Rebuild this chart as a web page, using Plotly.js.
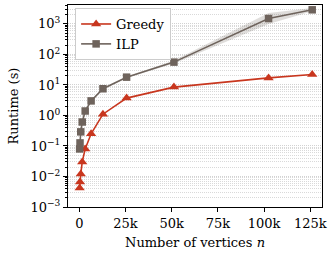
<!DOCTYPE html>
<html><head><meta charset="utf-8">
<script src="https://cdn.plot.ly/plotly-3.0.1.min.js"></script>
<style>html,body{margin:0;padding:0;background:#fff}#chart{width:330px;height:257px}</style>
</head><body><div id="chart"></div>
<script>
const vertices = [200, 400, 800, 1600, 3200, 6400, 12800, 25600, 51200, 102400, 126000];
const greedyRuntime = [0.0042, 0.0066, 0.012, 0.03, 0.08, 0.25, 1.1, 3.7, 8.5, 17, 22];
const ilpRuntime = [0.08, 0.126, 0.29, 0.61, 1.4, 3.0, 7.5, 18, 56, 1500, 2900];
const ilpLower = [0.075, 0.12, 0.27, 0.58, 1.3, 2.8, 7.1, 17, 50, 1000, 2600];
const ilpUpper = [0.085, 0.135, 0.31, 0.65, 1.5, 3.2, 8.0, 19, 63, 2300, 3300];
const yTickVals = [0.001, 0.01, 0.1, 1, 10, 100, 1000];
const yTickText = ["10<sup>−3</sup>", "10<sup>−2</sup>", "10<sup>−1</sup>", "10<sup>0</sup>", "10<sup>1</sup>", "10<sup>2</sup>", "10<sup>3</sup>"];
const xTickVals = [0, 25000, 50000, 75000, 100000, 125000];
const xTickText = ["0", "25k", "50k", "75k", "100k", "125k"];

const red = "#c8361e", gray = "#6e635c";
const font = {family: "DejaVu Serif", size: 13, color: "#000"};
const traces = [
  {x: vertices, y: ilpLower, mode: "lines", line: {width: 0}, showlegend: false, hoverinfo: "skip"},
  {x: vertices, y: ilpUpper, mode: "lines", line: {width: 0}, fill: "tonexty", fillcolor: "rgba(110,99,92,0.22)", showlegend: false, hoverinfo: "skip"},
  {x: vertices, y: greedyRuntime, name: "Greedy", mode: "lines+markers", line: {color: red, width: 1.6}, marker: {symbol: "triangle-up", size: 9, color: red}},
  {x: vertices, y: ilpRuntime, name: "ILP", mode: "lines+markers", line: {color: gray, width: 1.6}, marker: {symbol: "square", size: 7.5, color: gray}}
];
const layout = {
  width: 330, height: 257,
  margin: {l: 68, r: 8, t: 5, b: 50},
  paper_bgcolor: "#fff", plot_bgcolor: "#fff",
  font: font,
  showlegend: true,
  legend: {x: 0.028, y: 0.985, xanchor: "left", yanchor: "top", traceorder: "normal", bgcolor: "#fff", bordercolor: "#cccccc", borderwidth: 1, font: {family: "DejaVu Serif", size: 13}, tracegroupgap: 0, itemwidth: 30},
  xaxis: {
    range: [-6100, 131300],
    tickmode: "array", tickvals: xTickVals, ticktext: xTickText,
    ticks: "outside", ticklen: 4, tickwidth: 1, tickcolor: "#000",
    showgrid: false, zeroline: false,
    showline: true, linecolor: "#000", linewidth: 1, mirror: true,
    title: {text: "Number of vertices <i>n</i>", font: font, standoff: 8},
    tickfont: font
  },
  yaxis: {
    type: "log", range: [-3, 3.62],
    tickmode: "array", tickvals: yTickVals, ticktext: yTickText,
    ticks: "outside", ticklen: 4, tickwidth: 1, tickcolor: "#000",
    showgrid: true, gridcolor: "#cfcfcf", gridwidth: 0.8, griddash: "1px,1px",
    zeroline: false,
    showline: true, linecolor: "#000", linewidth: 1, mirror: true,
    minor: {dtick: "D1", ticks: "outside", ticklen: 2, tickcolor: "#000", showgrid: true, gridcolor: "#cfcfcf", gridwidth: 0.8, griddash: "1px,1px"},
    title: {text: "Runtime (s)", font: font, standoff: 8},
    tickfont: font
  }
};
Plotly.newPlot("chart", traces, layout, {displayModeBar: false, staticPlot: true});
</script></body></html>
